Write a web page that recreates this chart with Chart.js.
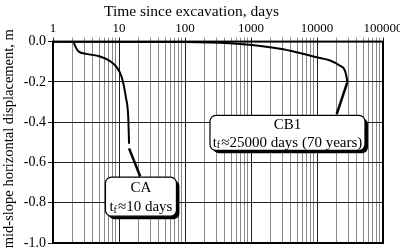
<!DOCTYPE html>
<html lang="en">
<head>
    <meta charset="UTF-8">
    <title>Mid-slope horizontal displacement</title>
    <script src="https://cdn.jsdelivr.net/npm/chart.js"></script>
    <style>
        body { margin: 0; background: #fff; }
        #wrap { width: 400px; height: 251px; }
    </style>
</head>
<body>
    <div id="wrap"><canvas id="dispChart"></canvas></div>

    <script type='text/javascript'>
    // values
    const xMajorTicks = [1, 10, 100, 1000, 10000, 100000];
    const yTicks = [0.0, -0.2, -0.4, -0.6, -0.8, -1.0];

    const caTime = [1, 2.03, 2.15, 2.42, 3.23, 5.15, 7.3, 9.2, 11, 12.7, 13.8, 14.2];
    const caDisp = [0, 0, -0.02, -0.048, -0.061, -0.074, -0.097, -0.127, -0.177, -0.276, -0.375, -0.507];

    const cbTime = [1, 100, 480, 960, 2750, 4900, 9900, 15800, 22000, 26500, 28600, 28800];
    const cbDisp = [0, -0.002, -0.008, -0.016, -0.036, -0.053, -0.078, -0.094, -0.119, -0.144, -0.193, -0.205];

    // label pointers: from curve end to label box
    const caPointer = [[14.2, -0.53], [21, -0.67]];
    const cbPointer = [[28600, -0.205], [19900, -0.36]];

    // label boxes: name, sub text, centre (time, disp)
    const labels = [
        { title: 'CA', tail: '\u224810 days', t: 21.5, d: -0.77, w: 71, h: 39 },
        { title: 'CB1', tail: '\u224825000 days (70 years)', t: 3570, d: -0.453, w: 155, h: 35 }
    ];

    const serif = "'Liberation Serif', 'DejaVu Serif', serif";

    function toPoints(xs, ys) {
        return xs.map((x, i) => ({ x: x, y: ys[i] }));
    }

    function isDecade(v) {
        return xMajorTicks.some(m => Math.abs(m - v) < 1e-6 * m);
    }

    // 1..9 in every decade, for the grid
    function logTicks() {
        const out = [];
        xMajorTicks.forEach((m, i) => {
            const n = i < xMajorTicks.length - 1 ? 9 : 1;
            for (let k = 1; k <= n; k++) out.push({ value: m * k });
        });
        return out;
    }

    // rounded boxes with shadow, plus plot frame
    const boxPlugin = {
        id: 'boxes',
        afterDatasetsDraw(chart) {
            const ctx = chart.ctx;
            const xs = chart.scales.x, ys = chart.scales.y;
            labels.forEach(lb => {
                const cx = xs.getPixelForValue(lb.t);
                const cy = ys.getPixelForValue(lb.d);
                const l = cx - lb.w / 2, t = cy - lb.h / 2;
                ctx.save();
                ctx.fillStyle = '#000';
                ctx.beginPath();
                ctx.roundRect(l + 3, t + 3, lb.w, lb.h, 6);
                ctx.fill();
                ctx.fillStyle = '#fff';
                ctx.strokeStyle = '#000';
                ctx.lineWidth = 1.2;
                ctx.beginPath();
                ctx.roundRect(l, t, lb.w, lb.h, 6);
                ctx.fill();
                ctx.stroke();

                ctx.fillStyle = '#000';
                ctx.textBaseline = 'middle';
                ctx.font = '15px ' + serif;
                ctx.textAlign = 'center';
                ctx.fillText(lb.title, cx, cy - lb.h / 4 + 1);

                // t with subscript f
                ctx.textAlign = 'left';
                const big = '15px ' + serif, small = '10px ' + serif;
                ctx.font = big;
                const wt = ctx.measureText('t').width;
                const wr = ctx.measureText(lb.tail).width;
                ctx.font = small;
                const wf = ctx.measureText('f').width;
                let x0 = cx - (wt + wf + 1 + wr) / 2;
                const y1 = cy + lb.h / 4 + 1;
                ctx.font = big;
                ctx.fillText('t', x0, y1);
                ctx.font = small;
                ctx.fillText('f', x0 + wt, y1 + 3);
                ctx.font = big;
                ctx.fillText(lb.tail, x0 + wt + wf + 1, y1);
                ctx.restore();
            });
        },
        afterDraw(chart) {
            const a = chart.chartArea, ctx = chart.ctx;
            ctx.save();
            ctx.strokeStyle = '#000';
            ctx.lineWidth = 2;
            ctx.strokeRect(a.left, a.top, a.right - a.left, a.bottom - a.top);
            ctx.restore();
        }
    };

    const ctx = document.getElementById('dispChart').getContext('2d');

    new Chart(ctx, {
        type: 'line',
        data: {
            datasets: [
                { data: toPoints(caTime, caDisp), borderColor: '#000', borderWidth: 2, pointRadius: 0, cubicInterpolationMode: 'monotone' },
                { data: toPoints(cbTime, cbDisp), borderColor: '#000', borderWidth: 2, pointRadius: 0, cubicInterpolationMode: 'monotone' },
                { data: caPointer.map(p => ({ x: p[0], y: p[1] })), borderColor: '#000', borderWidth: 2.5, pointRadius: 0 },
                { data: cbPointer.map(p => ({ x: p[0], y: p[1] })), borderColor: '#000', borderWidth: 2.5, pointRadius: 0 }
            ]
        },
        plugins: [boxPlugin],
        options: {
            responsive: true,
            maintainAspectRatio: false,
            animation: false,
            events: [],
            layout: { padding: { left: 0, right: 17, top: 0, bottom: 8 } },
            plugins: {
                legend: { display: false },
                tooltip: { enabled: false },
                title: {
                    display: true,
                    text: 'Time since excavation, days',
                    color: '#000',
                    font: { family: serif, size: 15.5, weight: 'normal', lineHeight: 1.2 },
                    padding: { top: 3, bottom: 0 }
                }
            },
            scales: {
                x: {
                    type: 'logarithmic',
                    position: 'top',
                    min: 1,
                    max: 100000,
                    afterBuildTicks(s) { s.ticks = logTicks(); },
                    afterFit(s) { s.height = 20; s.paddingLeft = 0; s.paddingRight = 0; },
                    border: { display: false },
                    grid: {
                        color: c => isDecade(c.tick.value) ? '#222' : '#8a8a8a',
                        lineWidth: 1,
                        tickLength: 4
                    },
                    ticks: {
                        autoSkip: false,
                        maxRotation: 0,
                        padding: 1,
                        color: '#000',
                        font: { family: serif, size: 13 },
                        callback: v => isDecade(v) ? String(v) : ''
                    }
                },
                y: {
                    min: -1.0,
                    max: 0.0,
                    afterFit(s) { s.width = 53; s.paddingTop = 0; s.paddingBottom = 0; },
                    afterBuildTicks(s) { s.ticks = yTicks.map(v => ({ value: v })); },
                    border: { display: false },
                    grid: { color: '#222', lineWidth: 1, tickLength: 5 },
                    title: {
                        display: true,
                        text: '  mid-slope horizontal displacement, m',
                        color: '#000',
                        font: { family: serif, size: 14.5 },
                        padding: 0
                    },
                    ticks: {
                        padding: 2,
                        color: '#000',
                        font: { family: serif, size: 14 },
                        callback: v => v.toFixed(1)
                    }
                }
            }
        }
    });
    </script>
</body></html>
